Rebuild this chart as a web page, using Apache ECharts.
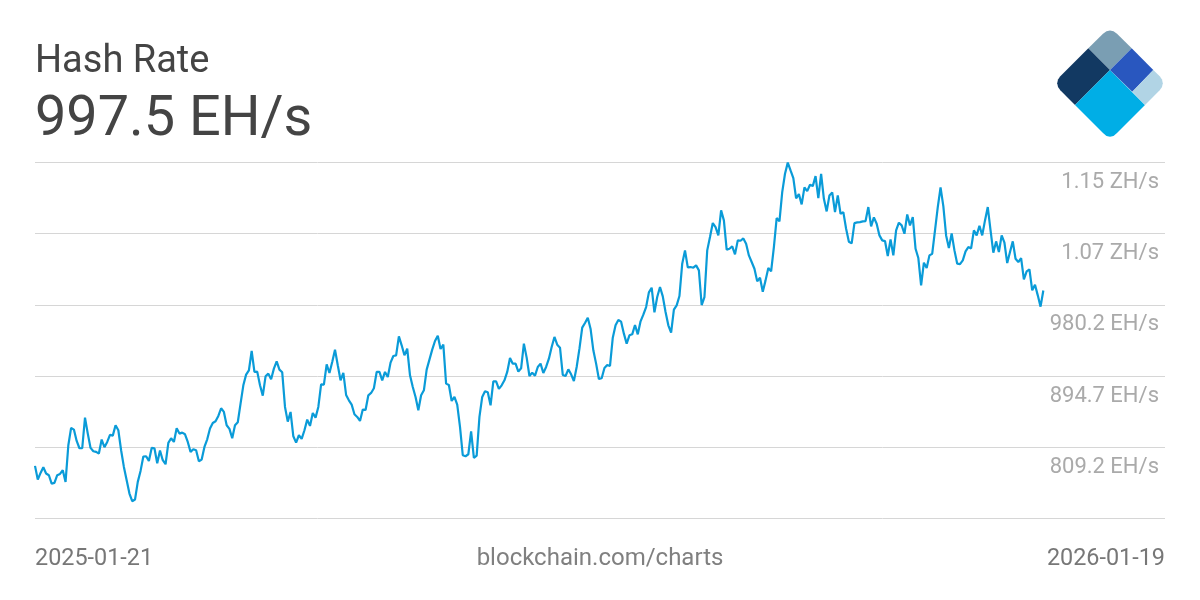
<!DOCTYPE html>
<html>
<head>
<meta charset="utf-8">
<title>Hash Rate</title>
<style>
  html, body { margin: 0; padding: 0; background: #fff; }
  #graphics { width: 1200px; height: 600px; }
</style>
</head>
<body>
<div id="graphics"></div>
<script src="https://cdn.jsdelivr.net/npm/echarts@6/dist/echarts.min.js"></script>
<script>
// daily hash rate in EH/s
var hashRateQ1 = [
  786.8,770.4,778.4,785.2,777.6,775.6,765.6,766.4,775.6,777.2,
  781.6,767.6,811.6,832.4,830.4,816.8,808,808,844.8,825.6,
  808.4,804.4,803.6,801.6,818.4,809.2,815.6,824,823.2,835.6,
  829.6,805.6,785.6,769.6,753.6,744.4,746.4,767.6,780.8,798,
  798.4,792.8,808.4,808,790,805.2,793.6,788.8,814.4,820,
  815.6,832,825.6,826.8,824.8,815.6,803.6,806.8,805.6,792.4,
  794.4,809.6,818.8,831.6,838.4,840.4,846.8,856,851.6,835.6,
  831.2,820,835.6,839.2,861.6,883.6,896.4,901.6,924.8,899.6,
  900,883.6,871.2,894.4,897.6,890.8,903.6,912.4,902.4,899.2,
  857.6,840
];
var hashRateQ2 = [
  851.6,822.4,814.8,823.6,819.2,829.6,842.4,834.8,850.4,844.8,
  857.6,884.8,884.4,908.8,898.4,911.6,926.4,907.6,889.6,898.4,
  872,865.6,860.4,848.8,845.6,840.8,854.4,854,871.6,874.4,
  880,899.6,899.6,889.6,899.6,893.6,910.8,918.8,919.6,942.4,
  931.6,919.6,927.6,895.6,881.6,869.6,853.6,871.6,877.6,902.4,
  914.4,926.4,936.8,943.2,927.2,932.4,885.6,884,864.8,869.6,
  860.4,833.6,799.6,798.4,800.8,828.4,796.4,799.2,845.6,869.6,
  876.4,875.2,859.6,888.4,888.4,879.2,883.6,889.6,899.6,916.4,
  909.6,909.6,900,904,933.6,916.8,894.8,898.8,895.2,905.6,
  909.6
];
var hashRateQ3 = [
  898.4,905.6,915.6,929.6,941.6,932.4,928.8,896,894.8,902.8,
  896.8,888.8,905.6,927.6,952.8,958.4,964.8,951.6,925.6,909.6,
  891.2,892,904.4,908,906.8,940.8,955.6,962,960,945.6,
  933.6,943.6,944.8,956,944.8,960.4,968.4,977.6,995.2,1000.8,
  971.2,989.6,1001.6,990.4,971.6,955.6,946.8,974.4,979.6,990.8,
  1029.6,1045.6,1025.2,1025.6,1024.8,1027.6,1021.6,980,989.6,1045.6,
  1061.6,1078.4,1073.6,1063.6,1093.6,1081.6,1046.4,1047.6,1050.4,1040.8,
  1057.6,1057.2,1060,1053.6,1039.6,1031.6,1023.6,1008.4,1012.8,996,
  1009.6,1024.4,1020.4,1049.6,1084.4,1080.4
];
var hashRateQ4 = [
  1115.6,1137.6,1151,1141.6,1132.4,1108,1113.2,1100.8,1121.2,1116.8,
  1124.4,1122.8,1134.8,1108.4,1137.6,1107.6,1092.4,1111.6,1115.2,1091.6,
  1111.6,1089.6,1091.6,1071.6,1056,1054,1078.4,1079.2,1079.6,1080.4,
  1080.8,1097.6,1074.4,1085.2,1077.6,1063.6,1057.6,1056.8,1038.8,1058.8,
  1039.6,1069.6,1078.8,1075.6,1065.6,1088.8,1075.6,1085.6,1047.6,1036.4,
  1003.6,1030.8,1024.4,1039.6,1041.6,1069.6,1097.6,1121.2,1098.8,1063.6,
  1048.4,1066,1045.6,1029.6,1029.2,1033.6,1044.4,1049.6,1048,1069.6,
  1063.6,1075.2,1063.6,1081.6,1097.6,1069.6,1042.8,1056.4,1043.6,1063.6,
  1054.8,1030.4,1043.6,1056.4,1035.6,1031.6,1036.4,1010.8,1020.4,1022.8,
  997.6,1004.4,991.6,978,997.5
];
var hashRate = hashRateQ1.concat(hashRateQ2, hashRateQ3, hashRateQ4);

var startDate = '2025-01-21';
var endDate = '2026-01-19';
var gridValues = [723.7, 809.2, 894.7, 980.2, 1065.7, 1151.2];
var tickLabels = ['', '809.2 EH/s', '894.7 EH/s', '980.2 EH/s', '1.07 ZH/s', '1.15 ZH/s'];

var DAY = 86400000;
var startMs = Date.parse(startDate + 'T00:00:00Z');
var seriesData = hashRate.map(function (v, i) {
  return [startMs + i * DAY, v];
});

var fontName = 'Roboto';

function logoPiece(points, color) {
  return { type: 'polygon', shape: { points: points }, style: { fill: color } };
}

var myChart = echarts.init(document.getElementById('graphics'), null, { renderer: 'canvas' });

var option = {
  animation: false,
  backgroundColor: '#fff',
  textStyle: { fontFamily: fontName },
  title: [
    { text: 'Hash Rate', left: 35, top: 43, padding: 0, textStyle: { fontFamily: fontName, fontSize: 38, fontWeight: 400, color: '#444' } },
    { text: '997.5 EH/s', left: 35, top: 93, padding: 0, textStyle: { fontFamily: fontName, fontSize: 55.8, fontWeight: 400, color: '#444' } },
    { text: startDate, left: 35, top: 548, padding: 0, textStyle: { fontFamily: fontName, fontSize: 23.4, fontWeight: 400, color: '#777' } },
    { text: 'blockchain.com/charts', left: 'center', top: 547, padding: 0, textStyle: { fontFamily: fontName, fontSize: 24, fontWeight: 400, color: '#808080' } },
    { text: endDate, right: 35, top: 548, padding: 0, textStyle: { fontFamily: fontName, fontSize: 23.4, fontWeight: 400, color: '#777' } }
  ],
  grid: { left: 35, right: 35, top: 162.45, bottom: 81.55, containLabel: false },
  xAxis: {
    type: 'time',
    min: startMs,
    max: startMs + 406.8 * DAY,
    show: false
  },
  yAxis: {
    type: 'value',
    position: 'right',
    min: gridValues[0],
    max: gridValues[5],
    axisLine: { show: false },
    axisTick: { show: false, customValues: gridValues },
    splitLine: { show: true, lineStyle: { color: '#d6d6d6', width: 1 } },
    axisLabel: {
      inside: true,
      customValues: gridValues,
      showMinLabel: true,
      showMaxLabel: true,
      margin: 6,
      fontFamily: fontName,
      fontSize: 22,
      color: '#aaa',
      verticalAlign: 'top',
      padding: [9, 0, 0, 0],
      formatter: function (val) {
        return tickLabels[gridValues.indexOf(val)] || '';
      }
    }
  },
  graphic: [
    logoPiece([[1088.3,48.3],[1103,33.7],[1106.5,31.2],[1110,30.4],[1113.5,31.2],[1117,33.7],[1131.7,48.3],[1110,70]], '#7a9eb3'),
    logoPiece([[1088.3,48.3],[1110,70],[1075,105],[1060.3,90.3],[1058,87],[1057.2,83.3],[1058,79.6],[1060.3,76.3]], '#123962'),
    logoPiece([[1110,70],[1145,105],[1117,133],[1113.5,135.9],[1110,136.8],[1106.5,135.9],[1103,133],[1075,105]], '#00aee6'),
    logoPiece([[1131.7,48.3],[1153.3,70],[1132.3,91.7],[1110,70]], '#2957bf'),
    logoPiece([[1153.3,70],[1159.7,76.3],[1162,79.6],[1162.8,83.3],[1162,87],[1159.7,90.3],[1145,105],[1132.3,91.7]], '#b1d4e5')
  ],
  series: [{
    name: 'Hash Rate',
    type: 'line',
    data: seriesData,
    showSymbol: false,
    symbol: 'none',
    clip: false,
    lineStyle: { color: '#0a9bd8', width: 2.2 }
  }]
};

myChart.setOption(option);
</script>
</body>
</html>
